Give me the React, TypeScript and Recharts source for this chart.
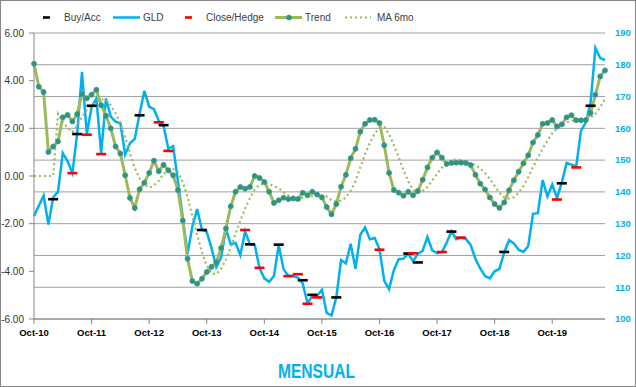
import React from "react";
import { ComposedChart, Line, XAxis, YAxis, CartesianGrid } from "recharts";

const MONTH_NAMES = ["Jan", "Feb", "Mar", "Apr", "May", "Jun", "Jul", "Aug", "Sep", "Oct", "Nov", "Dec"];
// Oct-10 ... Sep-20 (120 monthly categories)
const months: string[] = Array.from({ length: 120 }, (_, i) => {
  const k = 9 + i;
  return `${MONTH_NAMES[k % 12]}-${10 + Math.floor(k / 12)}`;
});

const leftTicks = [-6, -4, -2, 0, 2, 4, 6];
const rightTicks = [100, 110, 120, 130, 140, 150, 160, 170, 180, 190];

// GLD price (right axis)
const gld = [
  132.4, 135.6, 138.8, 129.7, 138.3, 140.0, 152.2, 149.6, 145.9, 158.3,
  177.8, 158.3, 166.6, 169.4, 152.1, 169.4, 163.7, 162.1, 161.6, 151.8,
  155.3, 156.7, 164.5, 171.8, 166.8, 166.0, 162.4, 160.7, 153.6, 154.4,
  143.3, 132.0, 120.5, 129.1, 134.6, 128.1, 127.4, 122.3, 116.3, 119.4,
  128.4, 123.5, 124.0, 120.1, 127.6, 123.5, 123.3, 116.0, 112.8, 111.7,
  113.5, 123.3, 115.7, 113.6, 113.5, 113.0, 111.2, 104.9, 107.3, 107.3,
  109.2, 101.9, 101.1, 106.8, 118.6, 117.5, 123.7, 115.8, 126.5, 128.8,
  125.1, 125.5, 122.0, 112.0, 109.4, 115.4, 118.8, 119.0, 120.5, 118.2,
  120.5, 121.5, 125.8, 121.6, 120.7, 121.0, 124.0, 127.6, 125.1, 125.6,
  125.2, 123.3, 118.9, 115.9, 113.5, 112.8, 115.0, 115.8, 121.0, 124.8,
  123.8, 121.8, 121.1, 123.0, 133.1, 133.3, 143.7, 138.6, 142.3, 138.1,
  143.0, 149.1, 148.6, 148.0, 159.2, 161.9, 168.0, 185.3, 182.1, 181.5,
];

// Trend (left axis)
const trend = [
  4.71, 3.75, 3.52, 1.01, 1.24, 1.45, 2.46, 2.56, 2.29, 2.60,
  3.43, 3.26, 3.41, 3.62, 2.97, 2.53, 2.00, 1.24, 0.94, 0.03,
  -0.92, -1.34, -0.56, -0.28, 0.13, 0.64, 0.20, 0.47, 0.24, 0.03,
  -0.59, -1.87, -3.47, -4.41, -4.52, -4.31, -4.03, -3.81, -3.62, -3.02,
  -2.20, -1.27, -0.66, -0.46, -0.53, -0.46, 0.00, -0.08, -0.25, -0.66,
  -1.13, -1.02, -0.91, -0.97, -0.94, -0.97, -0.70, -0.81, -0.66, -0.78,
  -0.90, -1.30, -1.61, -1.18, -0.45, 0.05, 0.75, 1.14, 1.86, 2.19,
  2.35, 2.36, 2.22, 1.29, 0.13, -0.59, -0.70, -0.83, -0.66, -0.81,
  -0.63, -0.16, 0.36, 0.77, 0.99, 0.77, 0.50, 0.55, 0.56, 0.56,
  0.55, 0.46, 0.05, -0.32, -0.57, -0.90, -1.18, -1.34, -1.11, -0.60,
  -0.18, 0.18, 0.53, 0.87, 1.41, 1.72, 2.19, 2.22, 2.35, 2.08,
  2.17, 2.46, 2.55, 2.34, 2.34, 2.35, 2.64, 3.41, 4.18, 4.43,
];

// MA 6mo (left axis)
const ma6 = [
  0, 0, 0, 0, 0, 2.61, 2.24, 2.04, 1.84, 2.10,
  2.47, 2.77, 2.93, 3.10, 3.22, 3.20, 2.97, 2.63, 2.22, 1.62,
  0.97, 0.33, -0.10, -0.36, -0.49, -0.39, -0.20, 0.10, 0.23, 0.29,
  0.17, -0.25, -0.87, -1.68, -2.47, -3.20, -3.77, -4.09, -4.12, -3.89,
  -3.50, -2.99, -2.43, -1.87, -1.36, -0.93, -0.56, -0.37, -0.30, -0.33,
  -0.43, -0.52, -0.68, -0.82, -0.94, -0.99, -0.92, -0.88, -0.84, -0.81,
  -0.80, -0.86, -1.01, -1.07, -1.04, -0.90, -0.62, -0.22, 0.36, 0.92,
  1.39, 1.78, 2.02, 2.05, 1.76, 1.29, 0.79, 0.25, -0.23, -0.58,
  -0.70, -0.63, -0.46, -0.19, 0.09, 0.35, 0.54, 0.66, 0.69, 0.66,
  0.58, 0.53, 0.46, 0.31, 0.12, -0.12, -0.41, -0.71, -0.90, -0.95,
  -0.89, -0.71, -0.42, -0.05, 0.37, 0.76, 1.15, 1.49, 1.79, 2.00,
  2.12, 2.25, 2.31, 2.33, 2.32, 2.37, 2.45, 2.61, 2.88, 3.23,
];

// Buy/Acc markers: [month index, GLD level]
const buyAcc: [number, number][] = [
  [4, 137.7], [9, 158.2], [12, 167.1], [22, 164.1], [27, 161.0], [35, 128.0],
  [45, 123.5], [51, 123.4], [56, 112.2], [58, 107.6], [63, 106.8], [78, 120.6],
  [80, 117.8], [87, 127.5], [98, 121.1], [110, 142.7], [116, 167.1],
];

// Close/Hedge markers: [month index, GLD level]
const closeHedge: [number, number][] = [
  [8, 145.9], [11, 158.0], [14, 151.9], [26, 161.9], [28, 152.9], [44, 128.0],
  [47, 116.1], [53, 113.5], [55, 114.1], [57, 104.8], [59, 106.8], [72, 121.8],
  [79, 120.7], [85, 121.1], [89, 125.6], [109, 137.6], [113, 147.7],
];

const buyMap = new Map(buyAcc);
const closeMap = new Map(closeHedge);

const data = months.map((m, i) => ({
  m,
  gld: gld[i],
  trend: trend[i],
  ma: ma6[i],
  buy: buyMap.has(i) ? buyMap.get(i) : null,
  close: closeMap.has(i) ? closeMap.get(i) : null,
}));

const FONT = "'Liberation Sans', Arial, sans-serif";
const BLUE = "#00b0f0";
const OLIVE = "#9bbb59";
const GRID = "#a0a0a0";
const AXIS = "#868686";

const makeDash = (color: string, key: string) => (props: any) => {
  const { cx, cy, index, payload } = props;
  const v = payload ? payload[key] : null;
  if (v == null || cy == null || cx == null || isNaN(cy)) {
    return <g key={`${key}-${index}`} />;
  }
  return <rect key={`${key}-${index}`} x={cx - 5} y={cy - 1.3} width={10} height={2.6} fill={color} />;
};

export default function App() {
  return (
    <div style={{ position: "absolute", left: 0, top: 0, width: 636, height: 387, background: "#fff" }}>
      <ComposedChart
        width={636}
        height={387}
        data={data}
        margin={{ top: 33, right: 0, bottom: 38, left: 0 }}
        style={{ fontFamily: FONT }}
      >
        <CartesianGrid yAxisId="right" vertical={false} stroke={GRID} strokeWidth={1} />
        <XAxis
          dataKey="m"
          type="category"
          scale="point"
          interval={11}
          height={30}
          axisLine={{ stroke: AXIS }}
          tickLine={{ stroke: AXIS }}
          tickSize={5}
          tickMargin={5}
          tick={{ fontSize: 9.5, fontWeight: "bold", fill: "#000", fontFamily: FONT }}
        />
        <YAxis
          yAxisId="left"
          orientation="left"
          width={34}
          domain={[-6, 6]}
          ticks={leftTicks}
          interval={0}
          allowDataOverflow
          axisLine={{ stroke: AXIS }}
          tickLine={{ stroke: AXIS }}
          tickSize={5}
          tickMargin={5}
          tickFormatter={(v: number) => v.toFixed(2)}
          tick={{ fontSize: 10, fill: "#333", fontFamily: FONT }}
        />
        <YAxis
          yAxisId="right"
          orientation="right"
          width={31}
          domain={[100, 190]}
          ticks={rightTicks}
          interval={0}
          allowDataOverflow
          axisLine={false}
          tickLine={false}
          tickSize={6}
          tickMargin={4}
          tick={{ fontSize: 9.5, fontWeight: "bold", fill: BLUE, fontFamily: FONT }}
        />
        <Line
          yAxisId="right"
          dataKey="gld"
          stroke={BLUE}
          strokeWidth={2.5}
          dot={false}
          activeDot={false}
          isAnimationActive={false}
        />
        <Line
          yAxisId="left"
          dataKey="ma"
          stroke={OLIVE}
          strokeWidth={2.2}
          strokeDasharray="2 3"
          dot={false}
          activeDot={false}
          isAnimationActive={false}
        />
        <Line
          yAxisId="left"
          dataKey="trend"
          stroke={OLIVE}
          strokeWidth={3}
          dot={{ r: 2.5, fill: "#22a05c", stroke: "#4a85bf", strokeWidth: 0.8 }}
          activeDot={false}
          isAnimationActive={false}
        />
        <Line
          yAxisId="right"
          dataKey="buy"
          stroke="none"
          dot={makeDash("#000000", "buy")}
          activeDot={false}
          isAnimationActive={false}
        />
        <Line
          yAxisId="right"
          dataKey="close"
          stroke="none"
          dot={makeDash("#ff0000", "close")}
          activeDot={false}
          isAnimationActive={false}
        />
      </ComposedChart>
      <svg
        width={636}
        height={387}
        style={{ position: "absolute", left: 0, top: 0, pointerEvents: "none" }}
        fontFamily={FONT}
      >
        <rect x={0.5} y={0.5} width={635} height={386} fill="none" stroke={AXIS} strokeWidth={1} />
        {/* legend */}
        <rect x={43} y={16.2} width={7} height={2.6} fill="#000" />
        <text x={64} y={21} fontSize={10} fill="#404040">Buy/Acc</text>
        <line x1={113} y1={17.5} x2={140} y2={17.5} stroke={BLUE} strokeWidth={2.5} />
        <text x={143} y={21} fontSize={10} fill="#404040">GLD</text>
        <rect x={185} y={16.2} width={7} height={2.6} fill="#ff0000" />
        <text x={206} y={21} fontSize={10} fill="#404040">Close/Hedge</text>
        <line x1={275} y1={17.5} x2={302} y2={17.5} stroke={OLIVE} strokeWidth={3} />
        <circle cx={289} cy={17.5} r={2.5} fill="#22a05c" stroke="#4a85bf" strokeWidth={0.8} />
        <text x={305} y={21} fontSize={10} fill="#404040">Trend</text>
        <line x1={345} y1={17.5} x2={371} y2={17.5} stroke={OLIVE} strokeWidth={2.2} strokeDasharray="2 3" />
        <text x={377} y={21} fontSize={10} fill="#404040">MA 6mo</text>
        {/* title */}
        <text
          x={316.5}
          y={378}
          fontSize={21}
          fontWeight="bold"
          fill={BLUE}
          textAnchor="middle"
          textLength={77}
          lengthAdjust="spacingAndGlyphs"
        >
          MENSUAL
        </text>
      </svg>
    </div>
  );
}
